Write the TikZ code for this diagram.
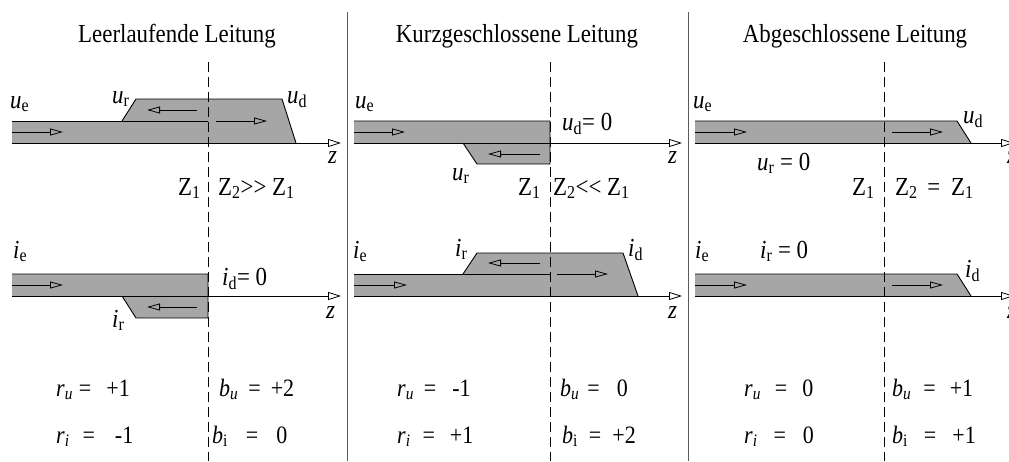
\documentclass[tikz,border=0pt]{standalone}
\usepackage{amsmath}
\usepackage{fontspec}
\setmainfont[FakeStretch=0.88]{Liberation Serif}
\usetikzlibrary{arrows.meta}
\definecolor{band}{RGB}{166,166,166}
\definecolor{sepcol}{RGB}{90,90,90}
\newcommand{\qv}[2]{$\text{\itshape #1}_{\text{#2}}$}
\newcommand{\qvi}[2]{$\text{\itshape #1}_{\text{\itshape #2}}$}
\newcommand{\zz}[1]{$\text{Z}_{\text{#1}}$}
\newcommand{\eqs}[3]{#1\hspace*{#2}=\hspace*{#3}}
\begin{document}
\begin{tikzpicture}[x=1pt,y=-1pt,
  bandfill/.style={fill=band,draw=none},
  edge/.style={draw=black,line width=0.9pt},
  axis/.style={draw=black,line width=0.8pt,-{Triangle[open,length=13pt,width=8pt]}},
  flow/.style={draw=black,line width=0.8pt,-{Triangle[open,length=13pt,width=7pt]}},
  zsep/.style={draw=black,line width=0.9pt,dash pattern=on 10pt off 5pt},
  panelsep/.style={draw=sepcol,line width=0.8pt},
  lbl/.style={inner sep=0pt,anchor=base west,font=\fontsize{26}{29}\selectfont},
  res/.style={inner sep=0pt,anchor=base west,font=\fontsize{25}{28}\selectfont},
  ttl/.style={inner sep=0pt,anchor=base,font=\fontsize{26}{29}\selectfont},
]
\useasboundingbox (0,0) rectangle (1009,461);

% ---------- fills ----------
\fill[band] (12,121)--(122,121)--(136,99)--(282,99)--(296,143)--(12,143)--cycle;
\fill[band] (12,274)--(208,274)--(208,318)--(136,318)--(122,296)--(12,296)--cycle;
\fill[band] (354,121)--(550,121)--(550,164)--(477,164)--(463,143)--(354,143)--cycle;
\fill[band] (354,274)--(463,274)--(477,253)--(623,253)--(638,296)--(354,296)--cycle;
\fill[band] (695,121)--(957,121)--(971,143)--(695,143)--cycle;
\fill[band] (695,274)--(957,274)--(971,296)--(695,296)--cycle;

% ---------- separators ----------
\coordinate (s1t) at (347,12); \coordinate (s1b) at (347,461);
\coordinate (s2t) at (688,12); \coordinate (s2b) at (688,461);
\draw[panelsep] (s1t) -- (s1b);
\draw[panelsep] (s2t) -- (s2b);

% ---------- dashed interfaces ----------
\coordinate (d1t) at (208,62); \coordinate (d1b) at (208,461);
\coordinate (d2t) at (550,62); \coordinate (d2b) at (550,461);
\coordinate (d3t) at (884,62); \coordinate (d3b) at (884,461);
\draw[zsep] (d1t) -- (d1b);
\draw[zsep] (d2t) -- (d2b);
\draw[zsep] (d3t) -- (d3b);

% ---------- edges ----------
\draw[edge] (12,121)--(208,121);
\draw[edge] (122,121)--(136,99)--(282,99)--(296,143);
\draw[edge] (12,274)--(208,274)--(208,318)--(136,318)--(122,296);
\draw[edge] (354,121)--(550,121)--(550,164)--(477,164)--(463,143);
\draw[edge] (354,274)--(550,274);
\draw[edge] (463,274)--(477,253)--(623,253)--(638,296);
\draw[edge] (695,121)--(957,121)--(971,143);
\draw[edge] (695,274)--(957,274)--(971,296);

% ---------- axes ----------
\coordinate (a1s) at (12,143);  \coordinate (a1e) at (341,143);
\coordinate (b1s) at (12,296);  \coordinate (b1e) at (341,296);
\coordinate (a2s) at (354,143); \coordinate (a2e) at (682,143);
\coordinate (b2s) at (354,296); \coordinate (b2e) at (682,296);
\coordinate (a3s) at (695,143); \coordinate (a3e) at (1014,143);
\coordinate (b3s) at (695,296); \coordinate (b3e) at (1014,296);
\draw[axis] (a1s) -- (a1e);
\draw[axis] (b1s) -- (b1e);
\draw[axis] (a2s) -- (a2e);
\draw[axis] (b2s) -- (b2e);
\draw[axis] (a3s) -- (a3e);
\draw[axis] (b3s) -- (b3e);

% ---------- flow arrows ----------
\draw[flow] (12,132) -- (63,132);
\draw[flow] (197,110) -- (147,110);
\draw[flow] (216,121) -- (267,121);
\draw[flow] (12,285) -- (63,285);
\draw[flow] (197,307) -- (147,307);

\draw[flow] (354,132) -- (405,132);
\draw[flow] (540,154) -- (488,154);
\draw[flow] (354,285) -- (407,285);
\draw[flow] (540,263) -- (488,263);
\draw[flow] (557,274) -- (608,274);

\draw[flow] (695,132) -- (747,132);
\draw[flow] (892,132) -- (943,132);
\draw[flow] (695,285) -- (747,285);
\draw[flow] (892,285) -- (943,285);

% ---------- titles ----------
\node[ttl] (t1) at (177,42) {Leerlaufende Leitung};
\node[ttl] (t2) at (517,42) {Kurzgeschlossene Leitung};
\node[ttl] (t3) at (855,42) {Abgeschlossene Leitung};

% ---------- panel 1 labels ----------
\node[lbl] (p1ue) at (10,108) {\qv{u}{e}};
\node[lbl] (p1ur) at (112,103) {\qv{u}{r}};
\node[lbl] (p1ud) at (287,103) {\qv{u}{d}};
\node[lbl] (p1z) at (328,163) {\textit{z}};
\node[lbl] (p1Z1) at (178,195) {\zz{1}};
\node[lbl] (p1Z2) at (218,195) {\zz{2}>{}> \zz{1}};
\node[lbl] (p1ie) at (13,258) {\qv{i}{e}};
\node[lbl] (p1id) at (222,285) {\qv{i}{d}= 0};
\node[lbl] (p1ir) at (112,327) {\qv{i}{r}};
\node[lbl] (p1zb) at (326,318) {\textit{z}};

% ---------- panel 2 labels ----------
\node[lbl] (p2ue) at (355,108) {\qv{u}{e}};
\node[lbl] (p2ud) at (562,130) {\qv{u}{d}= 0};
\node[lbl] (p2ur) at (452,180) {\qv{u}{r}};
\node[lbl] (p2z) at (668,163) {\textit{z}};
\node[lbl] (p2Z1) at (518,195) {\zz{1}};
\node[lbl] (p2Z2) at (553,195) {\zz{2}<{}< \zz{1}};
\node[lbl] (p2ie) at (353,258) {\qv{i}{e}};
\node[lbl] (p2ir) at (455,256) {\qv{i}{r}};
\node[lbl] (p2id) at (628,256) {\qv{i}{d}};
\node[lbl] (p2zb) at (668,318) {\textit{z}};

% ---------- panel 3 labels ----------
\node[lbl] (p3ue) at (693,108) {\qv{u}{e}};
\node[lbl] (p3ud) at (963,123) {\qv{u}{d}};
\node[lbl] (p3ur) at (757,170) {\qv{u}{r} = 0};
\node[lbl] (p3z) at (1007,163) {\textit{z}};
\node[lbl] (p3Z1) at (852,195) {\zz{1}};
\node[lbl] (p3Z2) at (895,195) {\zz{2}\hspace{4pt} =\hspace{5pt} \zz{1}};
\node[lbl] (p3ie) at (695,258) {\qv{i}{e}};
\node[lbl] (p3ir) at (760,258) {\qv{i}{r} = 0};
\node[lbl] (p3id) at (965,277) {\qv{i}{d}};
\node[lbl] (p3zb) at (1007,318) {\textit{z}};

% ---------- reflection / transmission factors ----------
\node[res] (p1ru) at (56,396)  {\eqs{\qvi{r}{u}}{6pt}{15pt}+1};
\node[res] (p1bu) at (219,396) {\eqs{\qvi{b}{u}}{10pt}{10pt}+2};
\node[res] (p1ri) at (56,443)  {\eqs{\qvi{r}{i}}{13pt}{20pt}-1};
\node[res] (p1bi) at (212,443) {\eqs{\qv{b}{i}}{18pt}{18pt}0};

\node[res] (p2ru) at (397,396) {\eqs{\qvi{r}{u}}{10pt}{16pt}-1};
\node[res] (p2bu) at (560,396) {\eqs{\qvi{b}{u}}{8pt}{17pt}0};
\node[res] (p2ri) at (397,443) {\eqs{\qvi{r}{i}}{12pt}{15pt}+1};
\node[res] (p2bi) at (562,443) {\eqs{\qv{b}{i}}{11pt}{11pt}+2};

\node[res] (p3ru) at (744,396) {\eqs{\qvi{r}{u}}{14pt}{15pt}0};
\node[res] (p3bu) at (892,396) {\eqs{\qvi{b}{u}}{12pt}{14pt}+1};
\node[res] (p3ri) at (744,443) {\eqs{\qvi{r}{i}}{16pt}{17pt}0};
\node[res] (p3bi) at (892,443) {\eqs{\qv{b}{i}}{16pt}{16pt}+1};
\end{tikzpicture}
\end{document}
